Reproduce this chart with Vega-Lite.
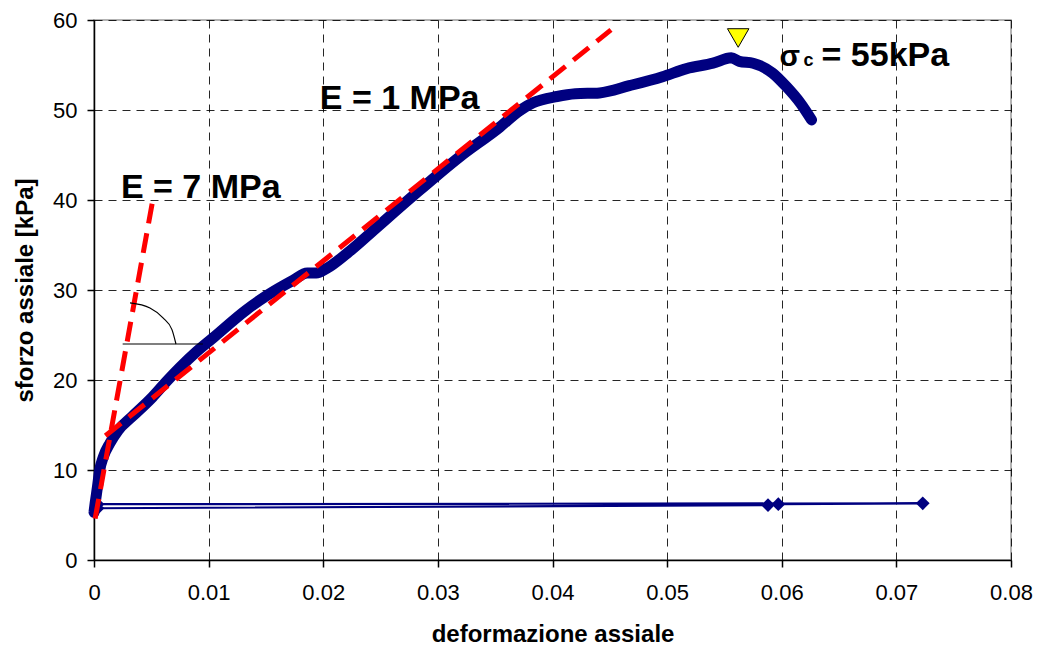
{
  "$schema": "https://vega.github.io/schema/vega-lite/v6.json",
  "width": 917,
  "height": 540,
  "autosize": {"type": "none"},
  "padding": {"left": 94, "top": 20, "right": 27, "bottom": 92},
  "background": "white",
  "config": {
    "view": {"stroke": "#9a9a9a", "strokeWidth": 1.5},
    "font": "Liberation Sans",
    "axis": {
      "labelFont": "Liberation Sans",
      "labelFontSize": 22,
      "labelColor": "#000000",
      "titleFont": "Liberation Sans",
      "titleFontSize": 24,
      "titleFontWeight": "bold",
      "titleColor": "#000000",
      "domainColor": "#000000",
      "domainWidth": 1.5,
      "tickColor": "#000000",
      "tickWidth": 1.5,
      "tickSize": 7,
      "gridColor": "#000000",
      "gridDash": [8, 6],
      "gridWidth": 1,
      "gridOpacity": 0.85,
      "labelOverlap": false
    }
  },
  "datasets": {
    "curve": [
      {"x": 0.0000, "y": 5.3},
      {"x": 0.0001, "y": 6.3},
      {"x": 0.0003, "y": 8.1},
      {"x": 0.0005, "y": 10.0},
      {"x": 0.0008, "y": 11.4},
      {"x": 0.0014, "y": 13.0},
      {"x": 0.0021, "y": 14.4},
      {"x": 0.0033, "y": 15.9},
      {"x": 0.0051, "y": 18.1},
      {"x": 0.0063, "y": 19.8},
      {"x": 0.0075, "y": 21.4},
      {"x": 0.0089, "y": 23.1},
      {"x": 0.0104, "y": 24.7},
      {"x": 0.0133, "y": 27.8},
      {"x": 0.0151, "y": 29.4},
      {"x": 0.0174, "y": 31.1},
      {"x": 0.0186, "y": 31.9},
      {"x": 0.0194, "y": 31.9},
      {"x": 0.0203, "y": 32.4},
      {"x": 0.0221, "y": 34.1},
      {"x": 0.0241, "y": 36.3},
      {"x": 0.0276, "y": 40.2},
      {"x": 0.0319, "y": 44.8},
      {"x": 0.0354, "y": 48.1},
      {"x": 0.0371, "y": 49.9},
      {"x": 0.0383, "y": 50.8},
      {"x": 0.0404, "y": 51.5},
      {"x": 0.0420, "y": 51.8},
      {"x": 0.0441, "y": 51.9},
      {"x": 0.0467, "y": 52.7},
      {"x": 0.0496, "y": 53.7},
      {"x": 0.0517, "y": 54.6},
      {"x": 0.0540, "y": 55.2},
      {"x": 0.0556, "y": 55.8},
      {"x": 0.0563, "y": 55.4},
      {"x": 0.0575, "y": 55.2},
      {"x": 0.0592, "y": 54.1},
      {"x": 0.0604, "y": 52.6},
      {"x": 0.0616, "y": 50.8},
      {"x": 0.0626, "y": 48.9}
    ],
    "base": [
      {"seq": 1, "x": 0.0003, "y": 5.75},
      {"seq": 2, "x": 0.0588, "y": 6.1},
      {"seq": 3, "x": 0.0597, "y": 6.2},
      {"seq": 4, "x": 0.0723, "y": 6.3},
      {"seq": 5, "x": 0.0003, "y": 6.2}
    ],
    "fits": [
      {"g": "E7", "x": 0.0001, "y": 4.6},
      {"g": "E7", "x": 0.0051, "y": 39.8},
      {"g": "E1", "x": 0.0010, "y": 13.8},
      {"g": "E1", "x": 0.0451, "y": 58.9}
    ],
    "angle": [
      {"g": "h", "x": 0.0025, "y": 24.0},
      {"g": "h", "x": 0.0095, "y": 24.0},
      {"g": "arc", "x": 0.00314, "y": 28.56},
      {"g": "arc", "x": 0.00488, "y": 28.0},
      {"g": "arc", "x": 0.00602, "y": 26.9},
      {"g": "arc", "x": 0.0068, "y": 25.6},
      {"g": "arc", "x": 0.00715, "y": 24.0}
    ],
    "peak": [
      {"x": 0.0562, "y": 58.0}
    ],
    "notes": [
      {"t": "E = 7 MPa", "x": 0.00235, "y": 40.2},
      {"t": "E = 1 MPa", "x": 0.0197, "y": 50.1},
      {"t": "= 55kPa", "x": 0.06347, "y": 54.9}
    ],
    "sigma": [
      {"t": "σ", "x": 0.0598, "y": 54.9}
    ],
    "sub": [
      {"t": "c", "x": 0.0619, "y": 54.9}
    ]
  },
  "encoding": {
    "x": {
      "field": "x",
      "type": "quantitative",
      "scale": {"domain": [0, 0.08], "nice": false, "zero": false},
      "axis": {
        "title": "deformazione assiale",
        "values": [0, 0.01, 0.02, 0.03, 0.04, 0.05, 0.06, 0.07, 0.08],
        "format": ".2~f",
        "labelFlush": false,
        "labelPadding": 15,
        "titlePadding": 19,
        "grid": true
      }
    },
    "y": {
      "field": "y",
      "type": "quantitative",
      "scale": {"domain": [0, 60], "nice": false, "zero": false},
      "axis": {
        "title": "sforzo assiale [kPa]",
        "values": [0, 10, 20, 30, 40, 50, 60],
        "labelPadding": 10,
        "titlePadding": 15,
        "grid": true
      }
    }
  },
  "layer": [
    {
      "data": {"name": "base"},
      "mark": {"type": "line", "color": "#000080", "strokeWidth": 2.2},
      "encoding": {"order": {"field": "seq", "type": "quantitative"}}
    },
    {
      "data": {"name": "base"},
      "mark": {"type": "point", "shape": "diamond", "filled": true, "color": "#000080", "size": 190, "opacity": 1}
    },
    {
      "data": {"name": "curve"},
      "mark": {"type": "line", "color": "#000080", "strokeWidth": 11, "strokeCap": "round", "strokeJoin": "round", "interpolate": "monotone"}
    },
    {
      "data": {"name": "fits"},
      "mark": {"type": "line", "color": "#ff0000", "strokeWidth": 5, "strokeDash": [20, 10]},
      "encoding": {"detail": {"field": "g", "type": "nominal"}}
    },
    {
      "data": {"name": "angle"},
      "mark": {"type": "line", "color": "#000000", "strokeWidth": 1.2, "interpolate": "monotone"},
      "encoding": {"detail": {"field": "g", "type": "nominal"}}
    },
    {
      "data": {"name": "peak"},
      "mark": {"type": "point", "shape": "triangle-down", "filled": true, "fill": "#ffff00", "stroke": "#000000", "strokeWidth": 1, "size": 460, "opacity": 1}
    },
    {
      "data": {"name": "notes"},
      "mark": {"type": "text", "font": "Liberation Sans", "fontWeight": "bold", "fontSize": 34, "align": "left", "baseline": "alphabetic", "color": "#000000"},
      "encoding": {"text": {"field": "t"}}
    },
    {
      "data": {"name": "sigma"},
      "mark": {"type": "text", "font": "Liberation Sans", "fontWeight": "bold", "fontSize": 30, "align": "left", "baseline": "alphabetic", "color": "#000000"},
      "encoding": {"text": {"field": "t"}}
    },
    {
      "data": {"name": "sub"},
      "mark": {"type": "text", "font": "Liberation Sans", "fontWeight": "bold", "fontSize": 18, "align": "left", "baseline": "alphabetic", "color": "#000000"},
      "encoding": {"text": {"field": "t"}}
    }
  ]
}
